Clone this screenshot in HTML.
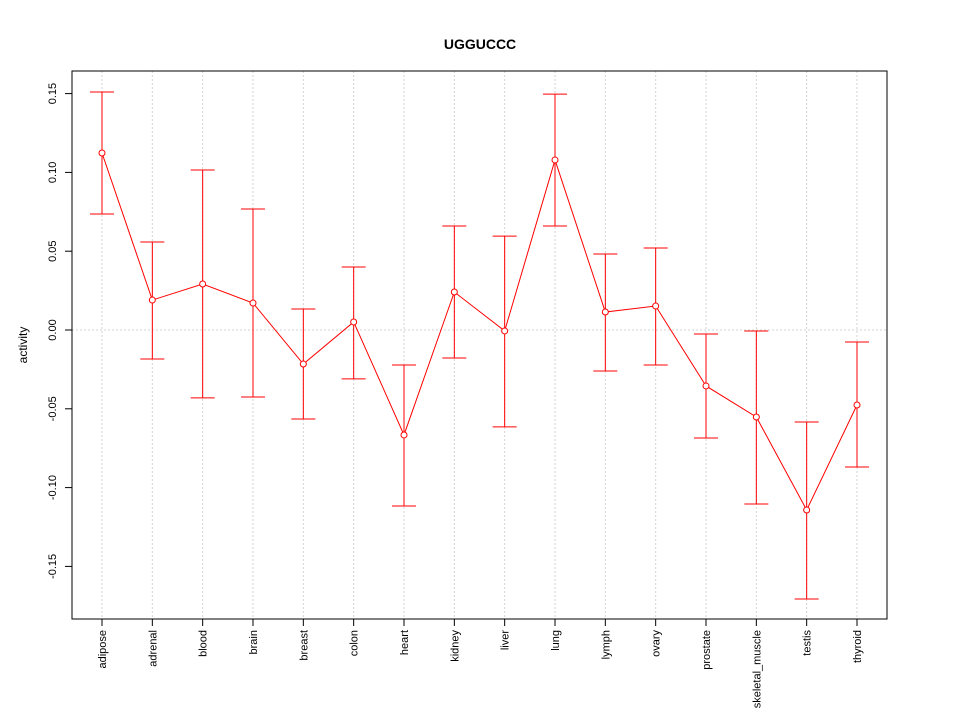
<!DOCTYPE html>
<html><head><meta charset="utf-8"><style>body{margin:0;background:#fff}svg{display:block;font-family:"Liberation Sans",sans-serif}</style></head>
<body>
<svg id="chart" width="960" height="720" viewBox="0 0 960 720">
<rect width="960" height="720" fill="#fff"/>
<text x="480" y="49" text-anchor="middle" font-size="14" font-weight="bold">UGGUCCC</text>
<text transform="translate(27,345) rotate(-90)" text-anchor="middle" font-size="12">activity</text>
<g id="grid"></g><g id="axes"></g><g id="marks"></g>
<rect x="72" y="71" width="815" height="548" fill="none" stroke="#000"/>
</svg>
<script>
const categories=["adipose","adrenal","blood","brain","breast","colon","heart","kidney","liver","lung","lymph","ovary","prostate","skeletal_muscle","testis","thyroid"];
const means=[0.1123,0.019,0.0292,0.0171,-0.0216,0.0051,-0.0666,0.0241,-0.0006,0.1079,0.0114,0.0152,-0.0355,-0.0552,-0.1142,-0.0476];
const uppers=[0.151,0.0558,0.1015,0.0768,0.0133,0.040,-0.0222,0.066,0.0596,0.1497,0.0482,0.052,-0.0025,-0.0006,-0.0584,-0.0076];
const lowers=[0.0736,-0.0184,-0.0431,-0.0425,-0.0565,-0.031,-0.1117,-0.0178,-0.0615,0.066,-0.026,-0.0222,-0.0685,-0.1104,-0.1707,-0.0869];
const yTicks=[-0.15,-0.10,-0.05,0.00,0.05,0.10,0.15];
const NS="http://www.w3.org/2000/svg";
const x=i=>102+i*(857-102)/(categories.length-1);
const y=v=>330-v*1576;
function mk(p,t,a){const e=document.createElementNS(NS,t);for(const k in a)e.setAttribute(k,a[k]);p.appendChild(e);return e;}
const grid=document.getElementById('grid'),axes=document.getElementById('axes'),marks=document.getElementById('marks');
categories.forEach((c,i)=>{
 const g=mk(grid,'line',{x1:x(i),x2:x(i),y1:71,y2:619,stroke:'#d3d3d3','stroke-dasharray':'2,2'});
 
 
 const t=mk(axes,'line',{x1:x(i),x2:x(i),y1:619,y2:626,stroke:'#000'});
 
 
 const l=mk(axes,'text',{transform:`translate(${x(i)+4},630) rotate(-90)`,'text-anchor':'end','font-size':'11'});
 l.textContent=c;
 
 
});
const z=mk(grid,'line',{x1:72,x2:887,y1:y(0),y2:y(0),stroke:'#d3d3d3','stroke-dasharray':'2,2'});


yTicks.forEach(v=>{
 const t=mk(axes,'line',{x1:65,x2:72,y1:y(v),y2:y(v),stroke:'#000'});
 
 
 const l=mk(axes,'text',{transform:`translate(56,${y(v)}) rotate(-90)`,'text-anchor':'middle','font-size':'11'});
 l.textContent=v.toFixed(2);
 
 
});
categories.forEach((c,i)=>{
 const e=mk(marks,'path',{d:`M${x(i)},${y(uppers[i])}V${y(lowers[i])}M${x(i)-12},${y(uppers[i])}H${x(i)+12}M${x(i)-12},${y(lowers[i])}H${x(i)+12}`,stroke:'red',fill:'none'});
 
 
});
const ln=mk(marks,'polyline',{points:means.map((m,i)=>x(i)+','+y(m)).join(' '),fill:'none',stroke:'red'});


means.forEach((m,i)=>{
 const p=mk(marks,'circle',{cx:x(i),cy:y(m),r:3,fill:'#fff',stroke:'red'});
 
 
});
</script>
</body></html>
